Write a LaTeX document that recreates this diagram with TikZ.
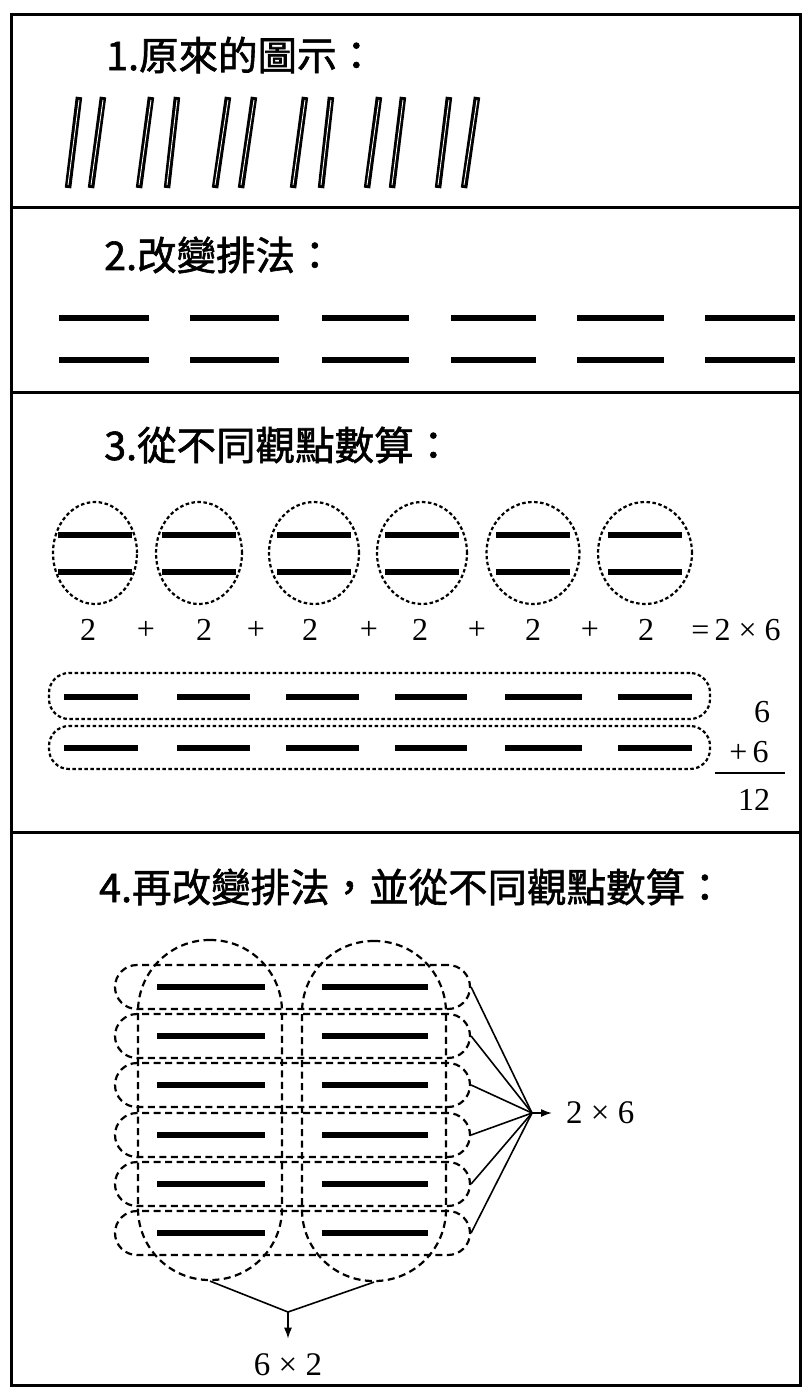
\documentclass[tikz,border=0pt]{standalone}
\usepackage{fontspec}
\usepackage{graphicx}
\newfontfamily\cjk[FakeBold=1.5]{Noto Sans CJK TC}
\newfontfamily\numf{Liberation Serif}
\usetikzlibrary{shapes.geometric,arrows.meta}
\begin{document}
\begin{tikzpicture}[x=1pt,y=-1pt,
  ttl/.style={anchor=west, inner sep=0pt, font=\cjk\fontsize{39.5}{41}\selectfont},
  numtxt/.style={inner sep=0pt, font=\numf\fontsize{32}{34}\selectfont},
  bignum/.style={inner sep=0pt, font=\numf\fontsize{33}{35}\selectfont},
  frameline/.style={line width=3pt},
  slashout/.style={line width=6.5pt},
  slashin/.style={white, line width=0.9pt},
  barS/.style={line width=6.5pt},
  barF/.style={line width=6.5pt},
  dotted3/.style={draw, dash pattern=on 3.5pt off 2.5pt, line width=2.2pt},
  ell/.style={dotted3, ellipse, inner sep=0pt},
  rowbox/.style={dotted3, rectangle, rounded corners=20pt, inner sep=0pt},
  dash4/.style={draw, dash pattern=on 7pt off 4.5pt, line width=2.2pt},
  hstad/.style={dash4, rectangle, rounded corners=22pt, minimum width=355pt, minimum height=44pt, inner sep=0pt},
  vstad/.style={dash4, rectangle, rounded corners=71.5pt, minimum width=144pt, minimum height=340pt, inner sep=0pt},
  conn/.style={line width=1.6pt},
  arrowtip/.style={-{Latex[length=11pt,width=8pt]}}
]
\fill[white] (0,0) rectangle (804,1387);
\useasboundingbox (0,0) rectangle (804,1387);
% frame
\draw[frameline] (11,14) rectangle (800,1385);
\draw[frameline] (11,207) -- (800,207);
\draw[frameline] (11,392) -- (800,392);
\draw[frameline] (11,832) -- (800,832);

% ---------- section 1
\node[ttl] (t1) at (106,55) {1.原來的圖示：};
\foreach \xb/\xt in {68/79,91/103,139/151,167/177,215/228,241/254,293/305,321/331,367/379,392/403,438/449,464/477} {
  \draw[slashout] (\xb,188) -- (\xt,97);
  \draw[slashin] (\xb,185) -- (\xt,100);
}

% ---------- section 2
\node[ttl] (t2) at (104,255) {2.改變排法：};
\foreach \a/\b in {59/149,190/279,322/409,451/536,577/664,705/795} {
  \draw[barS] (\a,318) -- (\b,318);
  \draw[barS] (\a,360) -- (\b,360);
}

% ---------- section 3
\node[ttl] (t3) at (104,445) {3.從不同觀點數算：};
\foreach \i/\cx/\w in {1/95/84,2/199/86,3/314/90,4/422/90,5/533/93,6/645/94} {
  \node[ell, minimum width=\w, minimum height=102] (e\i) at (\cx,553) {};
  \draw[barS] (\cx-37,535) -- (\cx+37,535);
  \draw[barS] (\cx-37,572) -- (\cx+37,572);
}
\foreach \i/\x/\s in {1/88/2,2/146/+,3/204/2,4/256/+,5/310/2,6/369/+,7/420/2,8/477/+,9/533/2,10/590/+,11/646/2}
  \node[numtxt] (f\i) at (\x,630) {\s};
\node[numtxt] (f12) at (736,630) {=\,2 × 6};

\node[rowbox, minimum width=661, minimum height=46] (rb1) at (379.5,696) {};
\node[rowbox, minimum width=661, minimum height=43] (rb2) at (379.5,747.5) {};
\foreach \a/\b in {64/138,177/250,286/359,395/467,505/582,618/692} {
  \draw[barS] (\a,697) -- (\b,697);
  \draw[barS] (\a,748) -- (\b,748);
}
\node[numtxt] (s6a) at (762,712) {6};
\node[numtxt] (s6b) at (749,752) {+\,6};
\draw[line width=2.5pt] (715,773) -- (785,773);
\node[numtxt] (s12) at (754,800) {12};

% ---------- section 4
\node[ttl] (t4) at (99,887) {4.再改變排法，並從不同觀點數算：};
\foreach \i/\y in {1/987,2/1036,3/1085,4/1135,5/1184,6/1233} {
  \node[hstad] (r\i) at (292.5,\y) {};
  \draw[barF] (157,\y) -- (265,\y);
  \draw[barF] (322,\y) -- (428,\y);
}
\node[vstad] (v1) at (210,1110) {};
\node[vstad] (v2) at (374,1111) {};

\coordinate (C) at (532,1113);
\node[bignum, anchor=west, inner xsep=14pt] (t26) at (552,1113) {2 × 6};
\foreach \i in {1,...,6} \draw[conn] (r\i.east) -- (C);
\draw[conn, arrowtip] (C) -- (t26.west);

\coordinate (J) at (288,1312);
\node[bignum, inner ysep=15pt] (t62) at (288,1365) {6 × 2};
\draw[conn] (v1.south) -- (J);
\draw[conn] (v2.south) -- (J);
\draw[conn, arrowtip] (J) -- (t62.north);
\end{tikzpicture}
\end{document}
